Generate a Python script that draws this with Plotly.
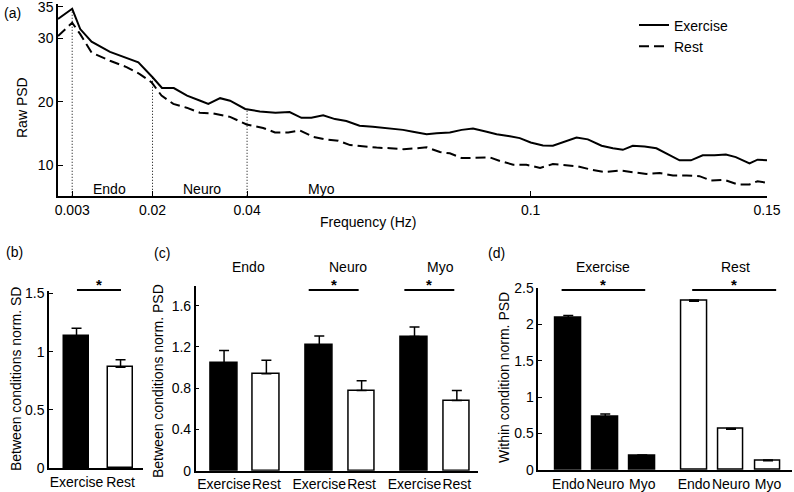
import plotly.graph_objects as go

W, H = 794, 492
FONT = "Liberation Sans, Arial, sans-serif"

# ---------------- data ----------------
freq_ex = [0, 0.003, 0.0047, 0.0071, 0.011, 0.0142, 0.017, 0.020, 0.022, 0.0245, 0.0273, 0.0301,
           0.0318, 0.0343, 0.0364, 0.0396, 0.0427, 0.046, 0.049, 0.0515, 0.0536, 0.0561, 0.0586,
           0.061, 0.0638, 0.0666, 0.0695, 0.073, 0.0751, 0.078, 0.0801, 0.0829, 0.0854, 0.0878,
           0.0907, 0.0928, 0.0956, 0.0977, 0.1, 0.1026, 0.1047, 0.1072, 0.1097, 0.1121, 0.115,
           0.1174, 0.1195, 0.1216, 0.1241, 0.1266, 0.129, 0.1315, 0.1339, 0.1364, 0.1389, 0.1413,
           0.1434, 0.1463, 0.148, 0.15]
psd_ex = [33.1, 34.7, 31.5, 29.5, 27.9, 27.0, 26.25, 23.9, 22.2, 22.2, 21.0, 20.2, 19.7, 20.6,
          20.2, 18.9, 18.5, 18.3, 18.4, 17.5, 17.5, 17.9, 17.3, 17.0, 16.25, 16.1, 15.9, 15.6,
          15.3, 14.9, 15.05, 15.2, 15.6, 15.8, 15.3, 14.9, 14.6, 14.3, 13.6, 13.15, 13.1, 13.75,
          14.4, 14.1, 13.1, 12.7, 12.45, 13.1, 12.97, 12.7, 11.8, 10.8, 10.8, 11.6, 11.6, 11.7,
          11.3, 10.3, 10.9, 10.8]

freq_rest = [0, 0.003, 0.0047, 0.0071, 0.011, 0.0145, 0.0173, 0.0198, 0.0219, 0.0244, 0.0272,
             0.03, 0.0328, 0.0364, 0.0399, 0.0434, 0.0459, 0.0487, 0.0512, 0.054, 0.0565, 0.0593,
             0.0618, 0.0646, 0.0674, 0.0703, 0.0731, 0.0759, 0.078, 0.0808, 0.0829, 0.0854,
             0.0882, 0.0914, 0.0935, 0.0963, 0.0991, 0.102, 0.1047, 0.1076, 0.11, 0.1129, 0.1157,
             0.1188, 0.1216, 0.1245, 0.1273, 0.1301, 0.133, 0.1357, 0.1382, 0.141, 0.1438,
             0.1463, 0.148, 0.15]
psd_rest = [30.4, 32.5, 30.7, 27.8, 26.5, 25.5, 24.4, 23.1, 21.0, 19.7, 19.1, 18.3, 18.2, 17.65,
            16.45, 15.9, 15.2, 15.2, 15.5, 14.5, 14.1, 13.9, 13.2, 12.97, 12.8, 12.7, 12.55, 12.7,
            12.85, 12.1, 11.9, 11.15, 11.15, 11.25, 10.7, 10.1, 10.1, 9.6, 10.2, 10.0, 9.85, 9.3,
            8.95, 9.2, 8.9, 8.65, 8.8, 8.4, 8.4, 8.3, 7.6, 7.7, 7.0, 7.0, 7.5, 7.25]

band_edges = [0.003, 0.02, 0.04]
band_edge_tops = [34.7, 23.8, 18.7]
band_names = ["Endo", "Neuro", "Myo"]
band_label_x = [0.0108, 0.0305, 0.0558]
freq_ticks = [0.003, 0.02, 0.04, 0.1, 0.15]
freq_ticklabels = ["0.003", "0.02", "0.04", "0.1", "0.15"]
psd_ticks = [10, 20, 30, 35]

conditions = ["Exercise", "Rest"]
sd_mean = [1.13, 0.866]
sd_err = [0.07, 0.065]

between_ex_mean = [1.043, 1.214, 1.30]
between_ex_err = [0.122, 0.091, 0.092]
between_rest_mean = [0.94, 0.777, 0.68]
between_rest_err = [0.13, 0.094, 0.097]

within_ex_mean = [2.086, 0.73, 0.196]
within_ex_err = [0.034, 0.037, 0.01]
within_rest_mean = [2.315, 0.56, 0.128]
within_rest_err = [0.015, 0.01, 0.008]


# ---------------- helpers ----------------
def dx(p0, p1):
    return [p0 / W, p1 / W]


def dy(top, bottom):
    return [1 - bottom / H, 1 - top / H]


def py(p):
    return 1 - p / H


fig = go.Figure()

# ---- panel (a) ----
fig.add_trace(go.Scatter(x=freq_ex, y=psd_ex, mode="lines", name="Exercise",
                         line=dict(color="black", width=2), xaxis="x", yaxis="y"))
fig.add_trace(go.Scatter(x=freq_rest, y=psd_rest, mode="lines", name="Rest",
                         line=dict(color="black", width=2, dash="10px,5px"), xaxis="x", yaxis="y"))
vx, vy = [], []
for e, t in zip(band_edges, band_edge_tops):
    vx += [e, e, None]
    vy += [0, t, None]
fig.add_trace(go.Scatter(x=vx, y=vy, mode="lines", showlegend=False, hoverinfo="skip",
                         line=dict(color="black", width=1, dash="1px,2px"), xaxis="x", yaxis="y"))

# ---- panel (b) ----
b_pos = [0, 1]
fig.add_trace(go.Bar(x=b_pos, y=sd_mean, width=0.57, xaxis="x2", yaxis="y2", showlegend=False,
                     marker=dict(color=["black", "white"], line=dict(color="black", width=1.5)),
                     error_y=dict(type="data", array=sd_err, arrayminus=[0, 0], symmetric=False,
                                  color="black", thickness=1.5, width=5)))

# ---- panel (c) ----
c_ex_pos = [0, 2.25, 4.5]
c_rest_pos = [1, 3.25, 5.5]
fig.add_trace(go.Bar(x=c_ex_pos, y=between_ex_mean, width=0.63, xaxis="x3", yaxis="y3",
                     showlegend=False,
                     marker=dict(color="black", line=dict(color="black", width=1.5)),
                     error_y=dict(type="data", array=between_ex_err, arrayminus=[0, 0, 0],
                                  symmetric=False, color="black", thickness=1.5, width=5)))
fig.add_trace(go.Bar(x=c_rest_pos, y=between_rest_mean, width=0.63, xaxis="x3", yaxis="y3",
                     showlegend=False,
                     marker=dict(color="white", line=dict(color="black", width=1.5)),
                     error_y=dict(type="data", array=between_rest_err, arrayminus=[0, 0, 0],
                                  symmetric=False, color="black", thickness=1.5, width=5)))

# ---- panel (d) ----
d_ex_pos = [0, 1, 2]
d_rest_pos = [3.4, 4.4, 5.4]
fig.add_trace(go.Bar(x=d_ex_pos, y=within_ex_mean, width=0.69, xaxis="x4", yaxis="y4",
                     showlegend=False,
                     marker=dict(color="black", line=dict(color="black", width=1.5)),
                     error_y=dict(type="data", array=within_ex_err, arrayminus=[0, 0, 0],
                                  symmetric=False, color="black", thickness=1.5, width=5)))
fig.add_trace(go.Bar(x=d_rest_pos, y=within_rest_mean, width=0.69, xaxis="x4", yaxis="y4",
                     showlegend=False,
                     marker=dict(color="white", line=dict(color="black", width=1.5)),
                     error_y=dict(type="data", array=within_rest_err, arrayminus=[0, 0, 0],
                                  symmetric=False, color="black", thickness=1.5, width=5)))

axis_common = dict(showline=True, linecolor="black", linewidth=1.5, showgrid=False,
                   zeroline=False, tickfont=dict(size=14, color="black", family=FONT),
                   ticks="inside", ticklen=5, tickcolor="black", tickwidth=1.2,
                   automargin=False, tickangle=0, ticklabeloverflow="allow")

layout = dict(
    template="none",
    width=W, height=H, margin=dict(l=0, r=0, t=0, b=0, autoexpand=False),
    paper_bgcolor="white", plot_bgcolor="white",
    font=dict(family=FONT, size=14, color="black"),
    bargap=0,
    legend=dict(x=634 / W, y=py(9.5), xanchor="left", yanchor="top", bgcolor="rgba(0,0,0,0)",
                font=dict(size=14), itemwidth=30, tracegroupgap=0),
    xaxis=dict(axis_common, domain=dx(58, 767), range=[0, 0.15], tickvals=freq_ticks,
               ticktext=freq_ticklabels, anchor="y"),
    yaxis=dict(axis_common, domain=dy(4, 196), range=[5.17, 35.45], tickvals=psd_ticks,
               anchor="x"),
    xaxis2=dict(axis_common, domain=dx(49, 143), range=[-0.625, 1.51], tickvals=b_pos,
                ticktext=conditions, ticks="", anchor="y2"),
    yaxis2=dict(axis_common, domain=dy(291, 468.3), range=[0, 1.52], tickvals=[0, 0.5, 1, 1.5],
                ticktext=["0", "0.5", "1", "1.5"], anchor="x2", ticklen=4),
    xaxis3=dict(axis_common, domain=dx(195.7, 478), range=[-0.67, 6.0],
                tickvals=c_ex_pos + c_rest_pos, ticktext=["Exercise"] * 3 + ["Rest"] * 3,
                ticks="", anchor="y3"),
    yaxis3=dict(axis_common, domain=dy(286, 470.7), range=[0, 1.79],
                tickvals=[0, 0.4, 0.8, 1.2, 1.6], ticktext=["0", "0.4", "0.8", "1.2", "1.6"],
                anchor="x3", ticklen=4),
    xaxis4=dict(axis_common, domain=dx(538.3, 791.7), range=[-0.81, 6.04],
                tickvals=d_ex_pos + d_rest_pos, ticktext=band_names + band_names,
                ticks="", anchor="y4"),
    yaxis4=dict(axis_common, domain=dy(287.7, 470), range=[0, 2.5],
                tickvals=[0, 0.5, 1, 1.5, 2, 2.5], ticktext=["0", "0.5", "1", "1.5", "2", "2.5"],
                anchor="x4", ticklen=4),
)
fig.update_layout(**layout)

ann = []


def txt(x, y, s, xref="paper", yref="paper", angle=0, size=14):
    ann.append(dict(x=x, y=y, xref=xref, yref=yref, text=s, showarrow=False, textangle=angle,
                    font=dict(size=size, color="black", family=FONT),
                    xanchor="center", yanchor="middle"))


# panel letters
txt(12 / W, py(13), "(a)")
txt(14 / W, py(252), "(b)")
txt(162 / W, py(253), "(c)")
txt(497 / W, py(253), "(d)")

# axis titles
txt(22 / W, py(108), "Raw PSD", angle=-90)
txt(368 / W, py(222), "Frequency (Hz)")
txt(16 / W, py(379), "Between conditions norm. SD", angle=-90)
txt(158 / W, py(381), "Between conditions norm. PSD", angle=-90)
txt(504 / W, py(378), "Within condition norm. PSD", angle=-90)

# band labels in (a)
for name, bx in zip(band_names, band_label_x):
    ann.append(dict(x=bx, y=py(189), xref="x", yref="paper", text=name, showarrow=False,
                    font=dict(size=14, color="black", family=FONT),
                    xanchor="center", yanchor="middle"))

# group titles
for name, gx, xr in [("Endo", 0.57, "x3"), ("Neuro", 2.93, "x3"), ("Myo", 5.12, "x3"),
                     ("Exercise", 0.95, "x4"), ("Rest", 4.51, "x4")]:
    ann.append(dict(x=gx, y=py(266.7), xref=xr, yref="paper", text=name, showarrow=False,
                    font=dict(size=14, color="black", family=FONT),
                    xanchor="center", yanchor="middle"))

# significance bars
shapes = []
sig = [("x2", 0.01, 1.01), ("x3", 2.0, 3.18), ("x3", 4.26, 5.44),
       ("x4", -0.18, 2.08), ("x4", 3.35, 5.62)]
for xr, a0, a1 in sig:
    shapes.append(dict(type="line", xref=xr, yref="paper", x0=a0, x1=a1, y0=py(290), y1=py(290),
                       line=dict(color="black", width=2)))
    ann.append(dict(x=(a0 + a1) / 2, y=py(284.5), xref=xr, yref="paper", text="<b>*</b>",
                    showarrow=False, font=dict(size=15, color="black", family=FONT),
                    xanchor="center", yanchor="middle"))

fig.update_layout(annotations=ann, shapes=shapes)
# remove the browser's default 8px body margin so the figure sits at the page origin
fig.write_html("out.html", config={"displayModeBar": False},
               post_script="document.body.style.margin='0px';")
